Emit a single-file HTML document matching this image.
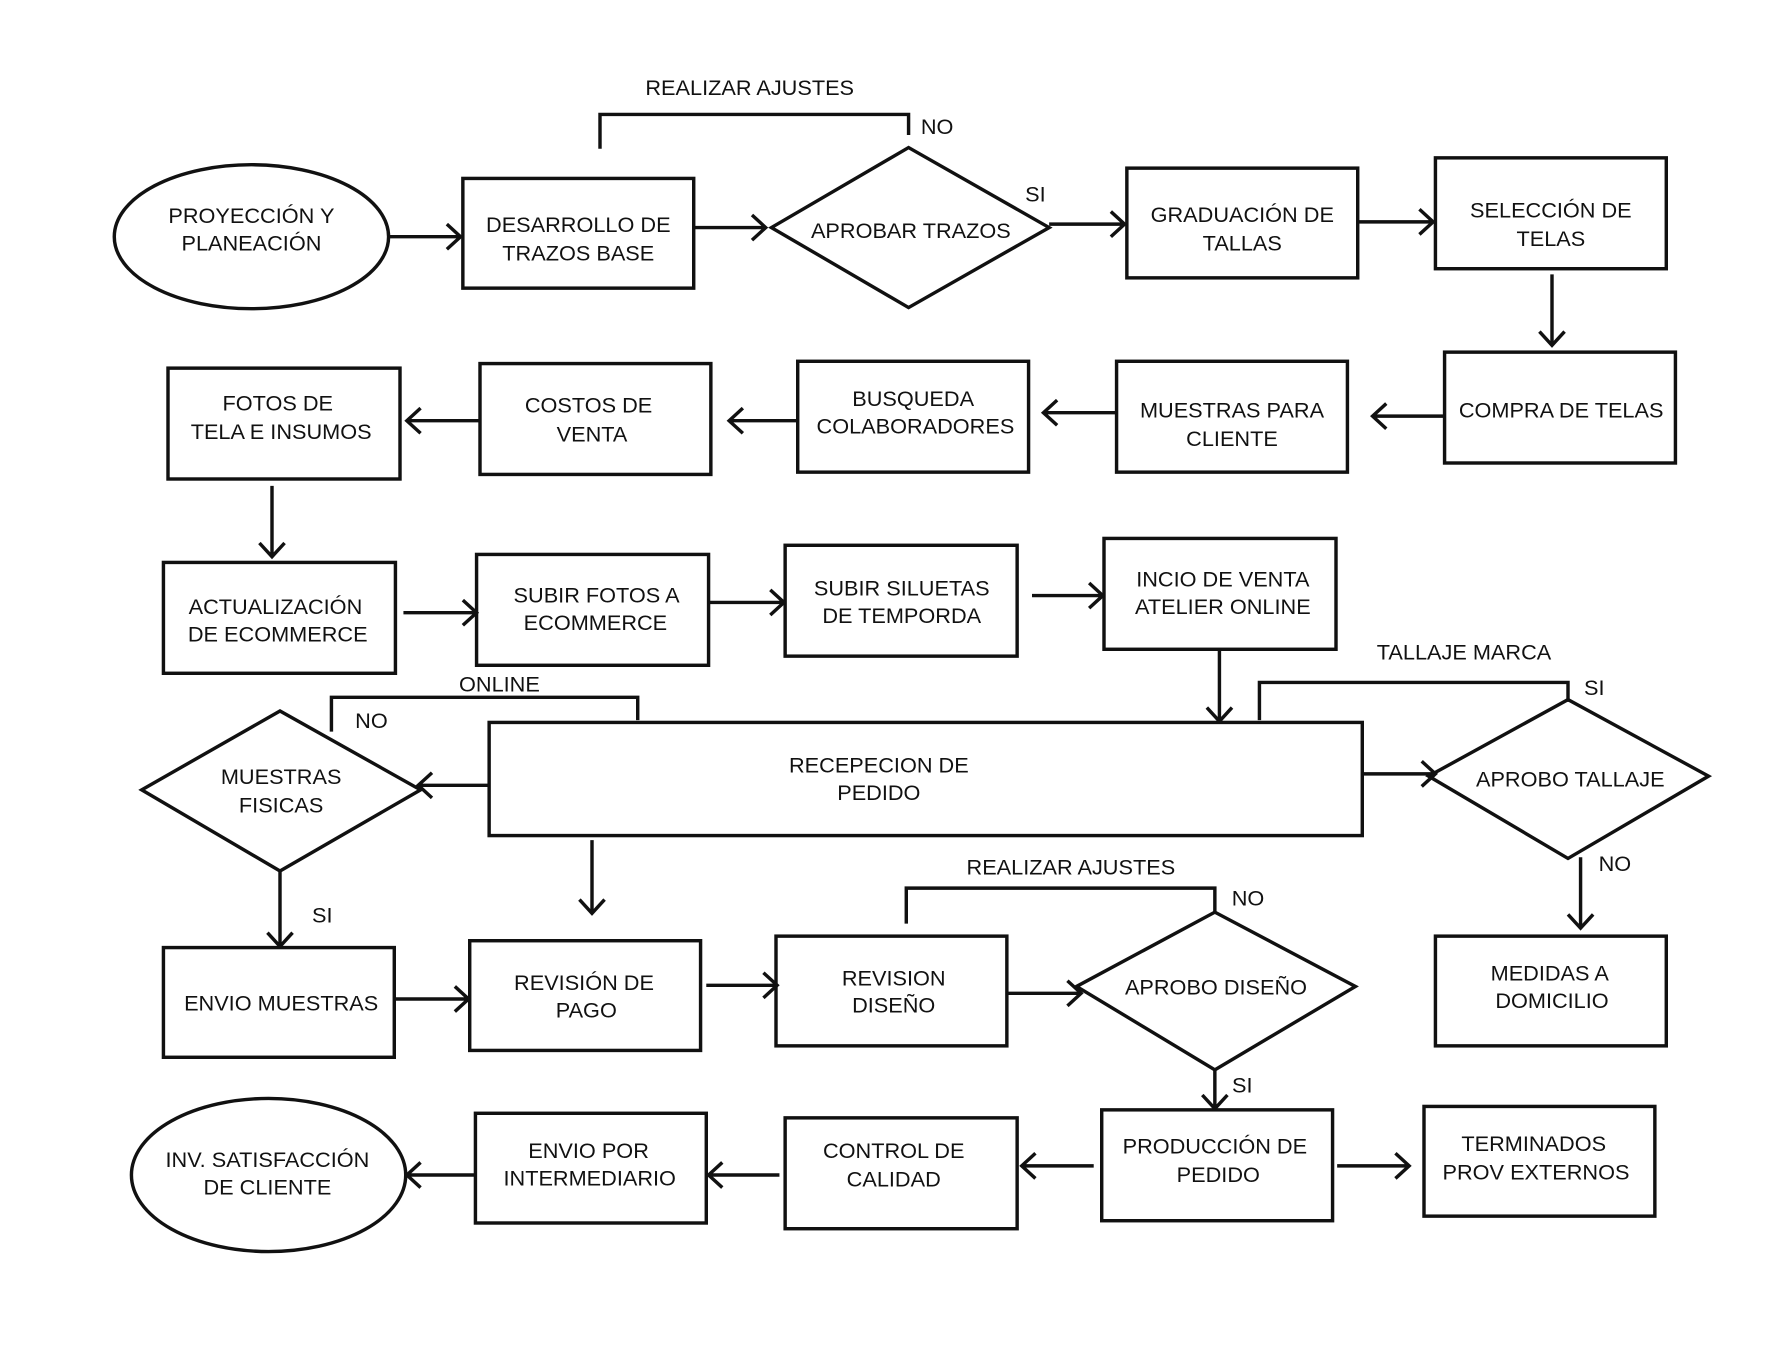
<!DOCTYPE html>
<html><head><meta charset="utf-8"><style>
html,body{margin:0;padding:0;background:#fff}
svg{display:block}
text{font-family:"Liberation Sans",Arial,sans-serif;font-size:19px;fill:#111;text-anchor:middle}
.s{fill:none;stroke:#111;stroke-width:3}
.w{fill:#fff;stroke:#111;stroke-width:3}
</style></head><body>
<svg width="1792" height="1350" viewBox="0 0 1568 1181" xmlns="http://www.w3.org/2000/svg">
<rect width="1568" height="1181" fill="#fff"/>
<!-- Row1 -->
<ellipse class="w" cx="220" cy="207" rx="120" ry="63"/>
<text x="220" y="195">PROYECCIÓN Y</text><text x="220" y="219">PLANEACIÓN</text>
<rect class="w" x="405" y="156" width="202" height="96"/>
<text x="506" y="203">DESARROLLO DE</text><text x="506" y="228">TRAZOS BASE</text>
<polygon class="w" points="675,199 795,129 918,199 795,269"/>
<text x="797" y="208">APROBAR TRAZOS</text>
<rect class="w" x="986" y="147" width="202" height="96"/>
<text x="1087" y="194">GRADUACIÓN DE</text><text x="1087" y="219">TALLAS</text>
<rect class="w" x="1256" y="138" width="202" height="97"/>
<text x="1357" y="190">SELECCIÓN DE</text><text x="1357" y="215">TELAS</text>
<path class="s" d="M340,207H403 M391,196L403,207L391,218 M607,199H670 M658,188L670,199L658,210 M918,196H984 M972,185L984,196L972,207 M1188,194H1254 M1242,183L1254,194L1242,205 M1358,240V302 M1347,290L1358,302L1369,290"/>
<path class="s" d="M525,130V100H795V118"/>
<text x="656" y="83">REALIZAR AJUSTES</text>
<text x="820" y="117">NO</text><text x="906" y="176">SI</text>
<!-- Row2 -->
<rect class="w" x="1264" y="308" width="202" height="97"/>
<text x="1366" y="365">COMPRA DE TELAS</text>
<rect class="w" x="977" y="316" width="202" height="97"/>
<text x="1078" y="365">MUESTRAS PARA</text><text x="1078" y="390">CLIENTE</text>
<rect class="w" x="698" y="316" width="202" height="97"/>
<text x="799" y="355">BUSQUEDA</text><text x="801" y="379">COLABORADORES</text>
<rect class="w" x="420" y="318" width="202" height="97"/>
<text x="515" y="361">COSTOS DE</text><text x="518" y="386">VENTA</text>
<rect class="w" x="147" y="322" width="203" height="97"/>
<text x="243" y="359">FOTOS DE</text><text x="246" y="384">TELA E INSUMOS</text>
<path class="s" d="M1264,364H1201 M1213,353L1201,364L1213,375 M977,361H913 M925,350L913,361L925,372 M698,368H638 M650,357L638,368L650,379 M420,368H356 M368,357L356,368L368,379 M238,425V487 M227,475L238,487L249,475"/>
<!-- Row3 -->
<rect class="w" x="143" y="492" width="203" height="97"/>
<text x="241" y="537">ACTUALIZACIÓN</text><text x="243" y="561">DE ECOMMERCE</text>
<rect class="w" x="417" y="485" width="203" height="97"/>
<text x="522" y="527">SUBIR FOTOS A</text><text x="521" y="551">ECOMMERCE</text>
<rect class="w" x="687" y="477" width="203" height="97"/>
<text x="789" y="521">SUBIR SILUETAS</text><text x="789" y="545">DE TEMPORDA</text>
<rect class="w" x="966" y="471" width="203" height="97"/>
<text x="1070" y="513">INCIO DE VENTA</text><text x="1070" y="537">ATELIER ONLINE</text>
<path class="s" d="M353,536H417 M405,525L417,536L405,547 M620,527H686 M674,516L686,527L674,538 M903,521H965 M953,510L965,521L953,532 M1067,568V631 M1056,619L1067,631L1078,619"/>
<!-- Row4 -->
<rect class="w" x="428" y="632" width="764" height="99"/>
<text x="769" y="676">RECEPECION DE</text><text x="769" y="700">PEDIDO</text>
<polygon class="w" points="124,691 245,622 368,691 245,762"/>
<text x="246" y="686">MUESTRAS</text><text x="246" y="711">FISICAS</text>
<path class="s" d="M428,687H366 M378,676L366,687L378,698"/>
<path class="s" d="M290,640V610H558V630"/>
<text x="437" y="605">ONLINE</text><text x="325" y="637">NO</text>
<polygon class="w" points="1250,679 1372,612 1495,679 1372,751"/>
<text x="1374" y="688">APROBO TALLAJE</text>
<path class="s" d="M1192,677H1256 M1244,666L1256,677L1244,688"/>
<path class="s" d="M1102,630V597H1372V614"/>
<text x="1281" y="577">TALLAJE MARCA</text><text x="1395" y="608">SI</text>
<text x="1413" y="762">NO</text>
<path class="s" d="M1383,750V812 M1372,800L1383,812L1394,800 M518,735V799 M507,787L518,799L529,787 M245,762V828 M234,816L245,828L256,816"/>
<text x="282" y="807">SI</text>
<!-- Row5 -->
<rect class="w" x="143" y="829" width="202" height="96"/>
<text x="246" y="884">ENVIO MUESTRAS</text>
<rect class="w" x="411" y="823" width="202" height="96"/>
<text x="511" y="866">REVISIÓN DE</text><text x="513" y="890">PAGO</text>
<rect class="w" x="679" y="819" width="202" height="96"/>
<text x="782" y="862">REVISION</text><text x="782" y="886">DISEÑO</text>
<polygon class="w" points="942,863 1063,798 1186,863 1063,936"/>
<text x="1064" y="870">APROBO DISEÑO</text>
<rect class="w" x="1256" y="819" width="202" height="96"/>
<text x="1356" y="858">MEDIDAS A</text><text x="1358" y="882">DOMICILIO</text>
<path class="s" d="M345,874H410 M398,863L410,874L398,885 M618,862H680 M668,851L680,862L668,873 M881,869H946 M934,858L946,869L934,880"/>
<path class="s" d="M793,808V777H1063V798"/>
<text x="937" y="765">REALIZAR AJUSTES</text><text x="1092" y="792">NO</text>
<text x="1087" y="956">SI</text>
<path class="s" d="M1063,936V970 M1052,958L1063,970L1074,958"/>
<!-- Row6 -->
<rect class="w" x="964" y="971" width="202" height="97"/>
<text x="1063" y="1009">PRODUCCIÓN DE</text><text x="1066" y="1034">PEDIDO</text>
<rect class="w" x="1246" y="968" width="202" height="96"/>
<text x="1342" y="1007">TERMINADOS</text><text x="1344" y="1032">PROV EXTERNOS</text>
<rect class="w" x="687" y="978" width="203" height="97"/>
<text x="782" y="1013">CONTROL DE</text><text x="782" y="1038">CALIDAD</text>
<rect class="w" x="416" y="974" width="202" height="96"/>
<text x="515" y="1013">ENVIO POR</text><text x="516" y="1037">INTERMEDIARIO</text>
<ellipse class="w" cx="235" cy="1028" rx="120" ry="67"/>
<text x="234" y="1021">INV.  SATISFACCIÓN</text><text x="234" y="1045">DE CLIENTE</text>
<path class="s" d="M1170,1020H1233 M1221,1009L1233,1020L1221,1031 M957,1020H894 M906,1009L894,1020L906,1031 M682,1028H620 M632,1017L620,1028L632,1039 M416,1028H356 M368,1017L356,1028L368,1039"/>
</svg>
</body></html>
